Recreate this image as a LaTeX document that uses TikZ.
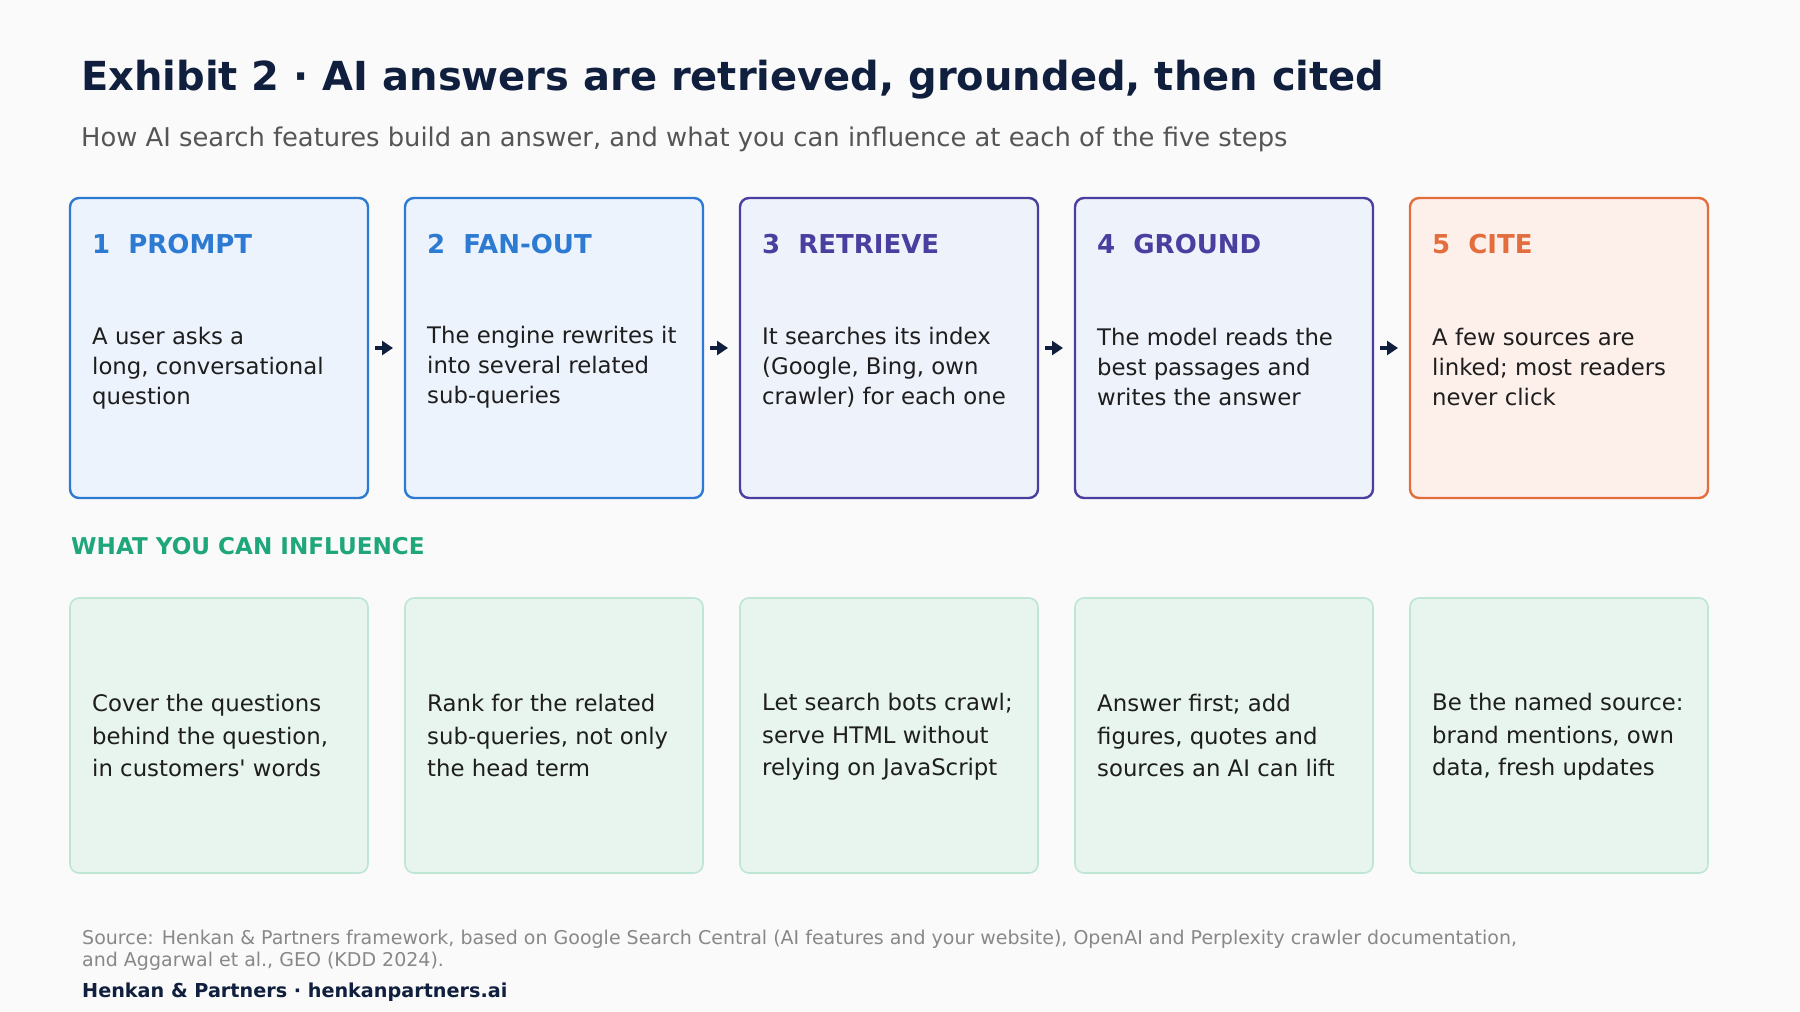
\documentclass[tikz,border=0pt]{standalone}
\usepackage{fontspec}
\setmainfont{DejaVu Sans}
\usepackage{xcolor}
\definecolor{ink}{HTML}{0F1F3D}
\definecolor{subgrey}{HTML}{555555}
\definecolor{srcgrey}{HTML}{888888}
\definecolor{bodyink}{HTML}{1E1E1E}
\definecolor{pagebg}{HTML}{FAFAFA}
\definecolor{stepblue}{HTML}{2D7AD2}
\definecolor{bluefill}{HTML}{EDF3FC}
\definecolor{steppurple}{HTML}{4A3E9F}
\definecolor{purplefill}{HTML}{EEF2FB}
\definecolor{steporange}{HTML}{E46D3D}
\definecolor{orangefill}{HTML}{FDF0EB}
\definecolor{influgreen}{HTML}{1FA67A}
\definecolor{actfill}{HTML}{E7F5EE}
\definecolor{actline}{HTML}{BFE6D4}
\usetikzlibrary{arrows.meta,calc}

\begin{document}
\begin{tikzpicture}[x=1pt, y=-1pt,
  stagebox/.style={draw=#1, line width=2.4pt, rounded corners=9pt, minimum width=298pt, minimum height=300pt, inner sep=0pt, outer sep=0pt},
  actbox/.style={draw=actline, fill=actfill, line width=1.6pt, rounded corners=9pt, minimum width=298pt, minimum height=275pt, inner sep=0pt, outer sep=0pt},
  stagetitle/.style={anchor=base west, inner sep=0pt, text=#1, font=\fontsize{26}{30}\selectfont\bfseries},
  stagetext/.style={anchor=west, inner sep=0pt, align=left, text=bodyink, font=\fontsize{22.8}{30}\selectfont},
  acttext/.style={anchor=west, inner sep=0pt, align=left, text=bodyink, font=\fontsize{22.8}{32.5}\selectfont},
  flow/.style={-{Triangle[length=11pt,width=14pt]}, line width=3.8pt, draw=ink, shorten <=7pt, shorten >=12pt}]
\fill[pagebg] (0,0) rectangle (1800,1012);
\useasboundingbox (0,0) rectangle (1800,1012);

\node[anchor=base west, inner sep=0pt, text=ink, font=\fontsize{40}{46}\selectfont\bfseries] (title) at (81,90) {Exhibit 2 · AI answers are retrieved, grounded, then cited};
\node[anchor=base west, inner sep=0pt, text=subgrey, font=\fontsize{25.8}{30}\selectfont] (subtitle) at (81,146) {How AI search features build an answer, and what you can influence at each of the five steps};

\node[stagebox=stepblue, fill=bluefill] (s1) at (219,348) {};
\node[stagebox=stepblue, fill=bluefill] (s2) at (554,348) {};
\node[stagebox=steppurple, fill=purplefill] (s3) at (889,348) {};
\node[stagebox=steppurple, fill=purplefill] (s4) at (1224,348) {};
\node[stagebox=steporange, fill=orangefill] (s5) at (1559,348) {};

\node[stagetitle=stepblue] (t1) at ($(s1.north west)+(22,55)$) {1\ \ PROMPT};
\node[stagetitle=stepblue] (t2) at ($(s2.north west)+(22,55)$) {2\ \ FAN-OUT};
\node[stagetitle=steppurple] (t3) at ($(s3.north west)+(22,55)$) {3\ \ RETRIEVE};
\node[stagetitle=steppurple] (t4) at ($(s4.north west)+(22,55)$) {4\ \ GROUND};
\node[stagetitle=steporange] (t5) at ($(s5.north west)+(22,55)$) {5\ \ CITE};

\node[stagetext] (b1) at ($(s1.west)+(22,20)$) {A user asks a\\long, conversational\\question};
\node[stagetext] (b2) at ($(s2.west)+(22,19.5)$) {The engine rewrites it\\into several related\\sub-queries};
\node[stagetext] (b3) at ($(s3.west)+(22,19.5)$) {It searches its index\\(Google, Bing, own\\crawler) for each one};
\node[stagetext] (b4) at ($(s4.west)+(22,19)$) {The model reads the\\best passages and\\writes the answer};
\node[stagetext] (b5) at ($(s5.west)+(22,19)$) {A few sources are\\linked; most readers\\never click};

\draw[flow] (s1.east) -- (s2.west);
\draw[flow] (s2.east) -- (s3.west);
\draw[flow] (s3.east) -- (s4.west);
\draw[flow] (s4.east) -- (s5.west);

\node[anchor=base west, inner sep=0pt, text=influgreen, font=\fontsize{23.1}{26}\selectfont\bfseries] (influence) at (71,554) {WHAT YOU CAN INFLUENCE};

\node[actbox] (a1) at (219,735.5) {};
\node[actbox] (a2) at (554,735.5) {};
\node[actbox] (a3) at (889,735.5) {};
\node[actbox] (a4) at (1224,735.5) {};
\node[actbox] (a5) at (1559,735.5) {};

\node[acttext] (c1) at ($(a1.west)+(22,0)$) {Cover the questions\\behind the question,\\in customers\textquotesingle{} words};
\node[acttext] (c2) at ($(a2.west)+(22,0)$) {Rank for the related\\sub-queries, not only\\the head term};
\node[acttext] (c3) at ($(a3.west)+(22,1.5)$) {Let search bots crawl;\\serve HTML without\\relying on JavaScript};
\node[acttext] (c4) at ($(a4.west)+(22,0)$) {Answer first; add\\figures, quotes and\\sources an AI can lift};
\node[acttext] (c5) at ($(a5.west)+(22,1.5)$) {Be the named source:\\brand mentions, own\\data, fresh updates};

\node[anchor=base west, inner sep=0pt, text=srcgrey, font=\fontsize{19}{22}\selectfont] (src1) at (82,944) {Source: Henkan \& Partners framework, based on Google Search Central (AI features and your website), OpenAI and Perplexity crawler documentation,};
\node[anchor=base west, inner sep=0pt, text=srcgrey, font=\fontsize{19}{22}\selectfont] (src2) at (82,966) {and Aggarwal et al., GEO (KDD 2024).};
\node[anchor=base west, inner sep=0pt, text=ink, font=\fontsize{19.2}{22}\selectfont\bfseries] (brand) at (82,997) {Henkan \& Partners · henkanpartners.ai};
\end{tikzpicture}
\end{document}
